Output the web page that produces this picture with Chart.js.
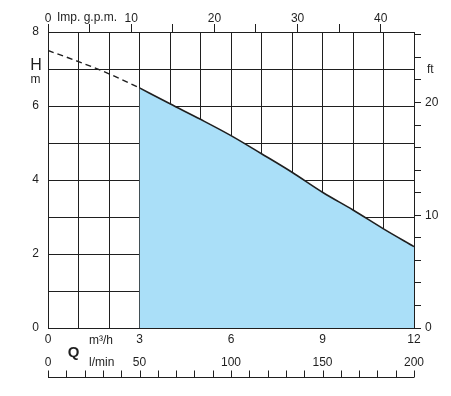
<!DOCTYPE html>
<html>
<head>
<meta charset="utf-8">
<script src="https://cdn.jsdelivr.net/npm/chart.js@4.4.1/dist/chart.umd.min.js"></script>
<style>
  html, body { margin: 0; padding: 0; background: #fff; }
</style>
</head>
<body>
<canvas id="pump-chart" width="451" height="396"></canvas>
<script>
// pump curve
const flowM3h = [3, 4, 5, 6, 7, 8, 9, 10, 11, 12];
const headM = [6.49, 6.06, 5.64, 5.20, 4.71, 4.21, 3.67, 3.19, 2.68, 2.20];
const dashFlowM3h = [0, 1, 2, 3];
const dashHeadM = [7.50, 7.20, 6.87, 6.49];

const m3hLabels = [0, 3, 6, 9, 12];
const headLabels = [0, 2, 4, 6, 8];
const gpmLabels = [0, 10, 20, 30, 40];
const ftLabels = [0, 10, 20];
const lminLabels = [0, 50, 100, 150, 200];

const M3H_PER_GPM = 0.272765;
const M_PER_FT = 0.3048;
const M3H_PER_LMIN = 0.06;

const ink = '#1f1f1f';
const fontFamily = '"Liberation Sans", Arial, sans-serif';
const tickFont = { family: fontFamily, size: 12 };

function onlyLabels(list) {
    return (v) => list.includes(v) ? String(v) : '';
}

// the unit axes end on odd values, so set their ticks by hand
function everyStep(step) {
    return (scale) => {
        const ticks = [];
        for (let v = 0; v <= scale.max + 1e-9; v += step) {
            ticks.push({ value: v });
        }
        scale.ticks = ticks;
    };
}

const extraText = {
    id: 'extraText',
    afterDraw(chart) {
        const ctx = chart.ctx;
        const x = chart.scales.x;
        const area = chart.chartArea;
        ctx.save();

        // l/min axis under the chart
        const axisY = 377.5;
        ctx.strokeStyle = ink;
        ctx.lineWidth = 1;
        ctx.beginPath();
        ctx.moveTo(area.left, axisY);
        ctx.lineTo(area.right, axisY);
        for (let v = 0; v <= 200; v += 10) {
            const px = Math.round(x.getPixelForValue(v * M3H_PER_LMIN)) + 0.5;
            ctx.moveTo(px, axisY);
            ctx.lineTo(px, axisY - 7);
        }
        ctx.stroke();

        ctx.fillStyle = ink;
        ctx.font = '12px ' + fontFamily;
        ctx.textAlign = 'center';
        ctx.textBaseline = 'alphabetic';
        lminLabels.forEach(v => {
            ctx.fillText(String(v), x.getPixelForValue(v * M3H_PER_LMIN), 366);
        });

        ctx.textAlign = 'left';
        ctx.fillText('l/min', 89, 366);
        ctx.fillText('m³/h', 89, 343.5);
        ctx.fillText('ft', 427, 73);
        ctx.fillText('Imp. g.p.m.', 57, 21);

        ctx.textAlign = 'center';
        ctx.fillText('m', 35.5, 82.5);
        ctx.font = '16px ' + fontFamily;
        ctx.fillText('H', 36, 70);
        ctx.font = 'bold 15px ' + fontFamily;
        ctx.fillText('Q', 73.5, 357);

        ctx.restore();
    }
};

const ctx = document.getElementById('pump-chart').getContext('2d');

const chart = new Chart(ctx, {
    type: 'line',
    data: {
        datasets: [{
            data: flowM3h.map((q, i) => ({ x: q, y: headM[i] })),
            borderColor: ink,
            borderWidth: 1.6,
            backgroundColor: '#aadff8',
            fill: 'origin',
            pointRadius: 0,
            cubicInterpolationMode: 'monotone'
        }, {
            data: dashFlowM3h.map((q, i) => ({ x: q, y: dashHeadM[i] })),
            borderColor: ink,
            borderWidth: 1.4,
            borderDash: [6, 4],
            fill: false,
            pointRadius: 0,
            cubicInterpolationMode: 'monotone'
        }]
    },
    options: {
        responsive: false,
        animation: false,
        layout: { padding: 0 },
        plugins: {
            legend: { display: false },
            tooltip: { enabled: false }
        },
        scales: {
            x: {
                type: 'linear',
                position: 'bottom',
                min: 0,
                max: 12,
                z: 1,
                ticks: { stepSize: 1, autoSkip: false, maxRotation: 0, padding: 4, color: ink, font: tickFont, callback: onlyLabels(m3hLabels) },
                grid: { color: ink, drawTicks: false },
                border: { color: ink },
                afterFit: (s) => { s.height = 68; }
            },
            y: {
                position: 'left',
                min: 0,
                max: 8,
                z: 1,
                ticks: { stepSize: 1, autoSkip: false, padding: 9, color: ink, font: tickFont, callback: onlyLabels(headLabels) },
                grid: { color: ink, drawTicks: false },
                border: { color: ink },
                afterFit: (s) => { s.width = 48; }
            },
            xTop: {
                type: 'linear',
                position: 'top',
                min: 0,
                max: 12 / M3H_PER_GPM,
                ticks: { autoSkip: false, maxRotation: 0, padding: -2, color: ink, font: tickFont, callback: onlyLabels(gpmLabels) },
                grid: { color: ink, drawOnChartArea: false, tickLength: 8 },
                border: { color: ink },
                afterBuildTicks: everyStep(5),
                afterFit: (s) => { s.height = 32; }
            },
            yRight: {
                position: 'right',
                min: 0,
                max: 8 / M_PER_FT,
                ticks: { autoSkip: false, padding: 4, color: ink, font: tickFont, callback: onlyLabels(ftLabels) },
                grid: { color: ink, drawOnChartArea: false, tickLength: 7 },
                border: { color: ink },
                afterBuildTicks: everyStep(2),
                afterFit: (s) => { s.width = 37; }
            }
        }
    },
    plugins: [extraText]
});
</script>
</body>
</html>
